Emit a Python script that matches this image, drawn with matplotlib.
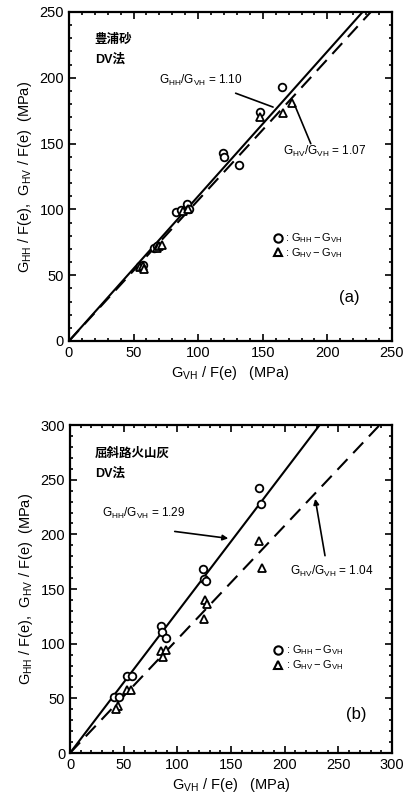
import matplotlib
matplotlib.use("Agg")
import matplotlib.pyplot as plt
from matplotlib.ticker import MultipleLocator
from matplotlib.lines import Line2D
import numpy as np

plt.rcParams['font.family'] = ['Liberation Sans', 'Noto Sans CJK JP', 'DejaVu Sans']
plt.rcParams['mathtext.fontset'] = 'custom'
plt.rcParams['mathtext.rm'] = 'Liberation Sans'
plt.rcParams['mathtext.it'] = 'Liberation Sans'

# ---- Panel (a): 豊浦砂 ----
a_hh_x = [148, 165, 119, 120, 132, 83, 87, 91, 93, 66, 68, 55, 57]
a_hh_y = [174, 193, 142.5, 139.5, 133.5, 98, 99.5, 104, 100, 71, 72, 57, 58]
a_hv_x = [148, 166, 173, 88, 92, 68, 70, 72, 55, 57, 58]
a_hv_y = [170, 173, 181, 99, 100, 71, 72, 73, 56, 57, 55]
a_ratio_hh = 1.10
a_ratio_hv = 1.07

# ---- Panel (b): 屈斜路火山灰 ----
b_hh_x = [176, 178, 124, 125, 127, 85, 86, 89, 53, 58, 41, 46]
b_hh_y = [242, 228, 168, 159, 157, 116, 111, 105, 70, 70, 51, 51]
b_hv_x = [176, 179, 126, 128, 125, 85, 89, 87, 53, 57, 45, 43]
b_hv_y = [194, 169, 140, 136, 123, 93, 94, 88, 58, 58, 43, 40]
b_ratio_hh = 1.29
b_ratio_hv = 1.04

fig = plt.figure(figsize=(4.13, 8.09), dpi=100)
ax1 = fig.add_axes([0.167, 0.5785, 0.782, 0.4067])
ax2 = fig.add_axes([0.1695, 0.0692, 0.7797, 0.4054])

ylabel = r'$\mathrm{G_{HH}}$ / F(e),  $\mathrm{G_{HV}}$ / F(e)  (MPa)'
xlabel = r'$\mathrm{G_{VH}}$ / F(e)   (MPa)'


def style(ax, lim):
    ax.set_xlim(0, lim)
    ax.set_ylim(0, lim)
    ax.xaxis.set_major_locator(MultipleLocator(50))
    ax.yaxis.set_major_locator(MultipleLocator(50))
    ax.xaxis.set_minor_locator(MultipleLocator(10))
    ax.yaxis.set_minor_locator(MultipleLocator(10))
    ax.tick_params(which='both', direction='in', top=True, right=True, labelsize=10.5, width=1.2)
    ax.tick_params(which='major', length=5)
    ax.tick_params(which='minor', length=2.5)
    for s in ax.spines.values():
        s.set_linewidth(1.6)
    ax.set_xlabel(xlabel, fontsize=10.5, labelpad=3)
    ax.set_ylabel(ylabel, fontsize=10.5, labelpad=4)


def draw(ax, lim, hh_x, hh_y, hv_x, hv_y, r_hh, r_hv):
    xs = np.array([0, lim])
    ax.plot(xs, r_hh * xs, color='black', lw=1.5)
    ax.plot(xs, r_hv * xs, color='black', lw=1.5, dashes=(7, 4))
    ax.plot(hh_x, hh_y, 'o', mfc='white', mec='black', mew=1.3, ms=5.5, ls='none')
    ax.plot(hv_x, hv_y, '^', mfc='white', mec='black', mew=1.3, ms=5.5, ls='none')


style(ax1, 250)
draw(ax1, 250, a_hh_x, a_hh_y, a_hv_x, a_hv_y, a_ratio_hh, a_ratio_hv)
style(ax2, 300)
draw(ax2, 300, b_hh_x, b_hh_y, b_hv_x, b_hv_y, b_ratio_hh, b_ratio_hv)

# Panel (a) texts
ax1.text(20, 229, '豊浦砂', fontsize=9, va='center', ha='left', fontweight='bold')
ax1.text(20, 214, 'DV法', fontsize=9, va='center', ha='left', fontweight='bold')
ax1.text(70, 198, r'$\mathrm{G_{HH}/G_{VH}}$ = 1.10', fontsize=8.5, va='center', ha='left')
ax1.annotate('', xy=(160, 177), xytext=(127, 189),
             arrowprops=dict(arrowstyle='-', color='black', lw=1.2))
ax1.text(166, 144, r'$\mathrm{G_{HV}/G_{VH}}$ = 1.07', fontsize=8.5, va='center', ha='left')
ax1.annotate('', xy=(174, 181), xytext=(188, 148),
             arrowprops=dict(arrowstyle='-', color='black', lw=1.2))
ax1.text(217, 33, '(a)', fontsize=12, ha='center', va='center')

handles = [Line2D([], [], marker='o', ls='none', mfc='white', mec='black', mew=1.5, ms=6),
           Line2D([], [], marker='^', ls='none', mfc='white', mec='black', mew=1.5, ms=6)]
labels = [r': $\mathrm{G_{HH}-G_{VH}}$', r': $\mathrm{G_{HV}-G_{VH}}$']
ax1.legend(handles, labels, loc='center left', bbox_to_anchor=(0.615, 0.29), frameon=False,
           fontsize=8, handlelength=0.8, handletextpad=0.3, labelspacing=0.05, borderpad=0)

# Panel (b) texts
ax2.text(23, 274, '屈斜路火山灰', fontsize=9, va='center', ha='left', fontweight='bold')
ax2.text(23, 256, 'DV法', fontsize=9, va='center', ha='left', fontweight='bold')
ax2.text(30, 219, r'$\mathrm{G_{HH}/G_{VH}}$ = 1.29', fontsize=8.5, va='center', ha='left')
ax2.annotate('', xy=(150, 196), xytext=(95, 203),
             arrowprops=dict(arrowstyle='-|>', color='black', lw=1.2, mutation_scale=8))
ax2.text(205, 166, r'$\mathrm{G_{HV}/G_{VH}}$ = 1.04', fontsize=8.5, va='center', ha='left')
ax2.annotate('', xy=(228, 235), xytext=(238, 178),
             arrowprops=dict(arrowstyle='-|>', color='black', lw=1.2, mutation_scale=8))
ax2.text(267, 35, '(b)', fontsize=12, ha='center', va='center')
ax2.legend(handles, labels, loc='center left', bbox_to_anchor=(0.615, 0.29), frameon=False,
           fontsize=8, handlelength=0.8, handletextpad=0.3, labelspacing=0.1, borderpad=0)

fig.savefig('out.png', dpi=100)
